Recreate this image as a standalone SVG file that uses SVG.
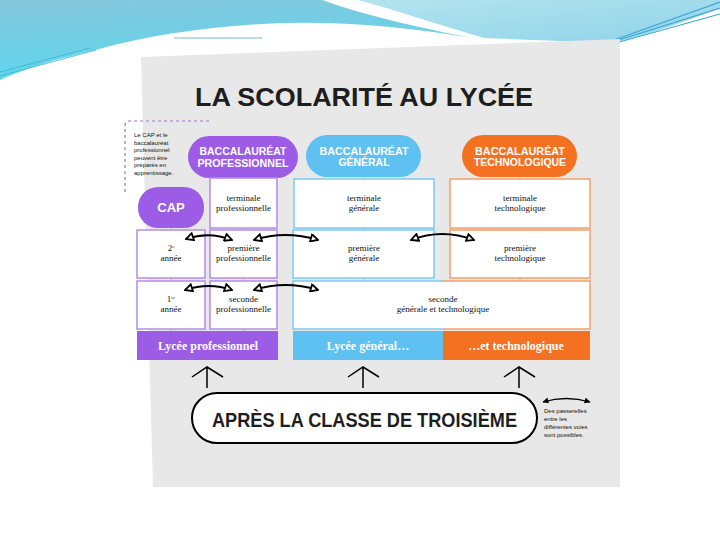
<svg xmlns="http://www.w3.org/2000/svg" width="720" height="540" viewBox="0 0 720 540">
<defs>
<linearGradient id="gL" x1="0" y1="0" x2="0.3" y2="1"><stop offset="0" stop-color="#86c6dc"/><stop offset="1" stop-color="#5ad8ee"/></linearGradient>
<linearGradient id="gR" x1="0" y1="0" x2="1" y2="1"><stop offset="0" stop-color="#b3e4ee"/><stop offset="1" stop-color="#8fd3ea"/></linearGradient>
<marker id="oh" viewBox="0 0 10 10" refX="9" refY="5" markerWidth="10" markerHeight="9" markerUnits="userSpaceOnUse" orient="auto-start-reverse"><path d="M1,1 L9,5 L1,9 Z" fill="#fff" stroke="#000" stroke-width="2"/></marker>
<marker id="fh" viewBox="0 0 10 10" refX="9" refY="5" markerWidth="7" markerHeight="6" markerUnits="userSpaceOnUse" orient="auto-start-reverse"><path d="M0,0 L10,5 L0,10 Z" fill="#000"/></marker>
</defs>
<style>
.pill{font-family:"Liberation Sans",Arial,sans-serif;font-weight:bold;fill:#fff;text-anchor:middle}
.bx{font-family:"Liberation Serif","Times New Roman",serif;font-size:9px;fill:#111;text-anchor:middle}
.bar{font-family:"Liberation Serif","Times New Roman",serif;font-weight:bold;font-size:12px;fill:#fff;text-anchor:middle}
.sm{font-family:"Liberation Sans",Arial,sans-serif;font-size:6px;fill:#111}
.pu{fill:#fff;stroke:#b48ce9;stroke-width:1.5}
.bl{fill:#fff;stroke:#7ccbef;stroke-width:1.5}
.or{fill:#fff;stroke:#f3a06a;stroke-width:1.5}
.arr{fill:none;stroke:#000;stroke-width:1.9;marker-start:url(#oh);marker-end:url(#oh)}
.up{fill:none;stroke:#000;stroke-width:1.5}
</style>
<rect width="720" height="540" fill="#fff"/>
<g id="header">
<path d="M0,0 H322 C360,14 420,28 472,38 C400,26 330,20 262,24 C190,28 130,40 96,50 C60,58 25,68 0,80 Z" fill="url(#gL)"/>
<path d="M358,0 H720 V8 C690,20 650,34 612,43 L484,38 C440,25 395,10 358,0 Z" fill="url(#gR)"/>
<path d="M600,45 L720,2 M606,44 L720,8 M612,44 L720,14" stroke="#3aa8d6" stroke-width="1.2" fill="none"/>
<path d="M0,76 L96,50 M0,72 L90,48" stroke="#3ab4d4" stroke-width="0.8" fill="none"/>
<path d="M174,38 L262,38" stroke="#6cbcd0" stroke-width="1" fill="none"/>
</g>
<polygon id="panel" points="141,57 620,39 620,487 153,487" fill="#e8e8e8"/>
<text x="195" y="106" textLength="338" lengthAdjust="spacingAndGlyphs" font-family="Liberation Sans,Arial,sans-serif" font-weight="bold" font-size="26" fill="#1e1e1e">LA SCOLARITÉ AU LYCÉE</text>
<g id="note">
<path d="M125,192 V126 Q125,121 130,121 H210" fill="none" stroke="#9b72d8" stroke-width="1.2" stroke-dasharray="3,3"/>
<text class="sm"><tspan x="134" y="137">Le CAP et le</tspan><tspan x="134" y="144.5">baccalauréat</tspan><tspan x="134" y="152">professionnel</tspan><tspan x="134" y="159.5">peuvent être</tspan><tspan x="134" y="167">préparés en</tspan><tspan x="134" y="174.5">apprentissage.</tspan></text>
</g>
<g id="guides">
<path d="M171,228 V331 M243.5,177 V331 M364,176 V281 M520,177 V281" stroke="#bbb" stroke-width="1" fill="none"/>
</g>
<g id="bac-pro"><rect x="188" y="136" width="110" height="42" rx="21" fill="#9c5ce6"/><text class="pill" x="243" y="155" font-size="11" textLength="87" lengthAdjust="spacingAndGlyphs">BACCALAURÉAT</text><text class="pill" x="243" y="167" font-size="11" textLength="91" lengthAdjust="spacingAndGlyphs">PROFESSIONNEL</text></g>
<g id="bac-gen"><rect x="306" y="135" width="115" height="42" rx="21" fill="#5fc0f2"/><text class="pill" x="364" y="154.5" font-size="11" textLength="89" lengthAdjust="spacingAndGlyphs">BACCALAURÉAT</text><text class="pill" x="364" y="166" font-size="11" textLength="51" lengthAdjust="spacingAndGlyphs">GÉNÉRAL</text></g>
<g id="bac-tech"><rect x="462" y="135" width="115" height="42" rx="21" fill="#f47121"/><text class="pill" x="520" y="154.5" font-size="11" textLength="90" lengthAdjust="spacingAndGlyphs">BACCALAURÉAT</text><text class="pill" x="520" y="166" font-size="11" textLength="92" lengthAdjust="spacingAndGlyphs">TECHNOLOGIQUE</text></g>
<g id="cap"><rect x="138" y="187" width="66" height="41" rx="20" fill="#9c5ce6"/><text class="pill" x="171" y="212" font-size="13">CAP</text></g>
<g id="term-pro"><rect class="pu" x="210" y="178" width="67" height="50"/><text class="bx"><tspan x="243.5" y="201">terminale</tspan><tspan x="243.5" y="211">professionnelle</tspan></text></g>
<g id="term-gen"><rect class="bl" x="294" y="179" width="140" height="49"/><text class="bx"><tspan x="364" y="201">terminale</tspan><tspan x="364" y="211">générale</tspan></text></g>
<g id="term-tech"><rect class="or" x="450" y="179" width="140" height="49"/><text class="bx"><tspan x="520" y="201">terminale</tspan><tspan x="520" y="211">technologique</tspan></text></g>
<g id="cap2"><rect class="pu" x="137" y="230" width="68" height="48"/><text class="bx"><tspan x="171" y="251">2<tspan font-size="5" dy="-3">e</tspan></tspan><tspan x="171" y="261">année</tspan></text></g>
<g id="prem-pro"><rect class="pu" x="210" y="230" width="67" height="48"/><text class="bx"><tspan x="243.5" y="251">première</tspan><tspan x="243.5" y="261">professionnelle</tspan></text></g>
<g id="prem-gen"><rect class="bl" x="293" y="230" width="141" height="48"/><text class="bx"><tspan x="364" y="251">première</tspan><tspan x="364" y="261">générale</tspan></text></g>
<g id="prem-tech"><rect class="or" x="450" y="230" width="140" height="48"/><text class="bx"><tspan x="520" y="251">première</tspan><tspan x="520" y="261">technologique</tspan></text></g>
<g id="cap1"><rect class="pu" x="137" y="281" width="68" height="48"/><text class="bx"><tspan x="171" y="302">1<tspan font-size="5" dy="-3">re</tspan></tspan><tspan x="171" y="312">année</tspan></text></g>
<g id="sec-pro"><rect class="pu" x="210" y="281" width="67" height="48"/><text class="bx"><tspan x="243.5" y="302">seconde</tspan><tspan x="243.5" y="312">professionnelle</tspan></text></g>
<g id="sec-gt"><rect x="293" y="281" width="297" height="48" fill="#fff"/><path d="M443,281 H293 V329 H443" fill="none" stroke="#7ccbef" stroke-width="1.5"/><path d="M443,281 H590 V329 H443" fill="none" stroke="#f3a06a" stroke-width="1.5"/><text class="bx"><tspan x="443" y="302">seconde</tspan><tspan x="443" y="312">générale et technologique</tspan></text></g>
<g id="lp"><rect x="137" y="331" width="141" height="29" fill="#9c5ce6"/><text class="bar" x="208" y="350">Lycée professionnel</text></g>
<g id="lg"><rect x="293" y="331" width="150" height="29" fill="#5fc0f2"/><text class="bar" x="368" y="350">Lycée général…</text></g>
<g id="lt"><rect x="443" y="331" width="147" height="29" fill="#f47121"/><text class="bar" x="516" y="350">…et technologique</text></g>
<g id="troisieme"><rect x="192" y="393" width="345" height="50" rx="25" fill="#fff" stroke="#000" stroke-width="2"/><text x="212" y="427" textLength="305" lengthAdjust="spacingAndGlyphs" font-family="Liberation Sans,Arial,sans-serif" font-weight="bold" font-size="19.5" fill="#1e1e1e">APRÈS LA CLASSE DE TROISIÈME</text></g>
<g id="legend">
<path d="M543,402 Q566,395 590,402" fill="none" stroke="#000" stroke-width="1.3" marker-start="url(#fh)" marker-end="url(#fh)"/>
<text class="sm"><tspan x="544" y="413">Des passerelles</tspan><tspan x="544" y="421">entre les</tspan><tspan x="544" y="429">différentes voies</tspan><tspan x="544" y="437">sont possibles.</tspan></text>
</g>
<g id="connectors">
<path class="arr" d="M186,239 Q209,231 232,240"/>
<path class="arr" d="M254,240 Q285,230 318,240"/>
<path class="arr" d="M411,240 Q442,228 474,240"/>
<path class="arr" d="M185,290 Q209,282 232,290"/>
<path class="arr" d="M254,290 Q285,280 318,290"/>
<path class="up" d="M207,388 V367 M192,377 L207,367 L223,377"/>
<path class="up" d="M363,388 V367 M348,377 L363,367 L379,377"/>
<path class="up" d="M519,388 V367 M504,377 L519,367 L535,377"/>
</g>
</svg>
